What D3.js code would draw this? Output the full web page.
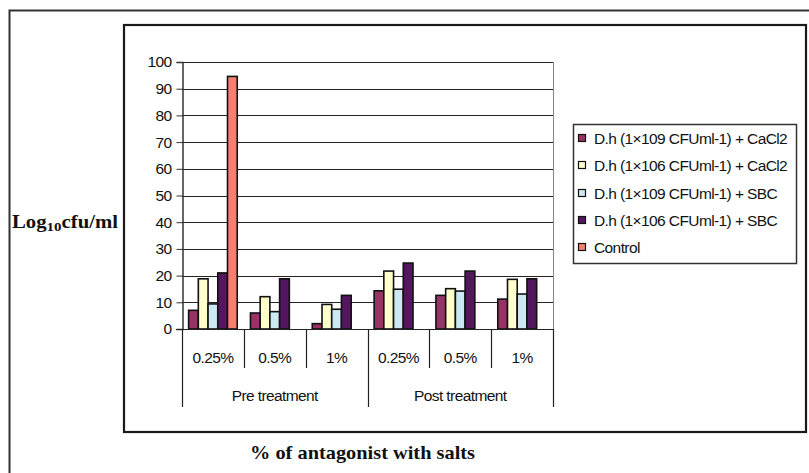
<!DOCTYPE html>
<html>
<head>
<meta charset="utf-8">
<script src="https://cdn.jsdelivr.net/npm/d3@7/dist/d3.min.js"></script>
<style>
  html, body { margin: 0; padding: 0; background: #fff; }
  svg { display: block; }
</style>
</head>
<body>
<svg id="chart" width="809" height="473"></svg>
<script>
// Sub-categories (concentration) and their treatment groups
const concentrations = ["0.25%", "0.5%", "1%", "0.25%", "0.5%", "1%"];
const treatments = ["Pre treatment", "Post treatment"];
const seriesNames = [
  "D.h (1×109 CFUml-1) + CaCl2",
  "D.h (1×106 CFUml-1) + CaCl2",
  "D.h (1×109 CFUml-1) + SBC",
  "D.h (1×106 CFUml-1) + SBC",
  "Control"
];
// Log10 cfu/ml per series, one value per sub-category
const dh109CaCl2 = [7, 6, 2, 14.3, 12.6, 11.2];
const dh106CaCl2 = [18.8, 12.1, 9.2, 21.7, 15.1, 18.6];
const dh109SBC   = [9.4, 6.5, 7.4, 14.9, 14.2, 13.1];
const dh106SBC   = [21, 18.8, 12.6, 24.7, 21.7, 18.8];
const control    = [94.6, null, null, null, null, null];
const yTicks = [0, 10, 20, 30, 40, 50, 60, 70, 80, 90, 100];

const seriesValues = [dh109CaCl2, dh106CaCl2, dh109SBC, dh106SBC, control];
const colors = ["#993366", "#FFFFCC", "#CCE8F2", "#551660", "#F5806F"];

const svg = d3.select("#chart");
const font = "'Liberation Sans', Arial, sans-serif";
const serif = "'Liberation Serif', 'Times New Roman', serif";
const fs = 15.5, ls = -0.6;

// Outer frame (open on the right and bottom)
svg.append("path")
  .attr("d", "M9.5,473 L9.5,10.5 L809,10.5")
  .attr("fill", "none").attr("stroke", "#333").attr("stroke-width", 2);

// Chart area frame
svg.append("rect")
  .attr("x", 124).attr("y", 25).attr("width", 682).attr("height", 407)
  .attr("fill", "#fff").attr("stroke", "#1a1a1a").attr("stroke-width", 2.2);

const plot = { left: 182, right: 553, top: 62, bottom: 329 };

const ids = d3.range(concentrations.length);
const x0 = d3.scaleBand().domain(ids).range([plot.left, plot.right]).paddingInner(0).paddingOuter(0);
const x1 = d3.scaleBand().domain(d3.range(seriesNames.length))
  .range([0, x0.bandwidth()]).paddingInner(0).paddingOuter(0.68);
const y = d3.scaleLinear().domain([0, 100]).range([plot.bottom, plot.top]);

// Horizontal gridlines
svg.append("g").selectAll("line").data(yTicks.slice(1)).join("line")
  .attr("x1", plot.left).attr("x2", plot.right)
  .attr("y1", d => Math.round(y(d)) + 0.5).attr("y2", d => Math.round(y(d)) + 0.5)
  .attr("stroke", "#222").attr("stroke-width", 1);

// Right edge of plot area
svg.append("line")
  .attr("x1", plot.right + 0.5).attr("x2", plot.right + 0.5)
  .attr("y1", plot.top).attr("y2", plot.bottom)
  .attr("stroke", "#888").attr("stroke-width", 1);

// Y axis
const yAxis = d3.axisLeft(y).tickValues(yTicks).tickSize(6).tickPadding(5);
const gy = svg.append("g").attr("transform", `translate(${plot.left + 0.5},0)`).call(yAxis);
gy.select(".domain").attr("stroke", "#333").attr("stroke-width", 1.5);
gy.selectAll(".tick line").attr("stroke", "#333");
gy.selectAll(".tick text")
  .attr("font-family", font).attr("font-size", fs).attr("fill", "#111")
  .attr("letter-spacing", ls);

// Bars
const barData = [];
seriesValues.forEach((vals, s) => vals.forEach((v, i) => {
  if (v != null) barData.push({ s, i, v });
}));
svg.append("g").selectAll("rect").data(barData).join("rect")
  .attr("x", d => x0(d.i) + x1(d.s))
  .attr("y", d => y(d.v))
  .attr("width", x1.bandwidth())
  .attr("height", d => y(0) - y(d.v))
  .attr("fill", d => colors[d.s])
  .attr("stroke", "#111").attr("stroke-width", 1.6);

// Baseline
svg.append("line")
  .attr("x1", plot.left - 6).attr("x2", plot.right)
  .attr("y1", plot.bottom + 0.5).attr("y2", plot.bottom + 0.5)
  .attr("stroke", "#222").attr("stroke-width", 1.2);

// Two-level category axis: separators
const sepG = svg.append("g").attr("stroke", "#222").attr("stroke-width", 1.2);
ids.concat([ids.length]).forEach(i => {
  const xx = i < ids.length ? x0(i) : plot.right;
  const isGroupEdge = i % 3 === 0;
  sepG.append("line")
    .attr("x1", Math.round(xx) + 0.5).attr("x2", Math.round(xx) + 0.5)
    .attr("y1", plot.bottom).attr("y2", isGroupEdge ? 407 : 368);
});

// Concentration labels
svg.append("g").selectAll("text").data(ids).join("text")
  .attr("x", i => x0(i) + x0.bandwidth() / 2)
  .attr("y", 363)
  .attr("text-anchor", "middle")
  .attr("font-family", font).attr("font-size", fs).attr("fill", "#111")
  .attr("letter-spacing", ls)
  .text(i => concentrations[i]);

// Treatment labels
svg.append("g").selectAll("text").data(treatments).join("text")
  .attr("x", (d, g) => (x0(g * 3) + (g * 3 + 3 < ids.length ? x0(g * 3 + 3) : plot.right)) / 2)
  .attr("y", 401)
  .attr("text-anchor", "middle")
  .attr("font-family", font).attr("font-size", fs).attr("fill", "#111")
  .attr("letter-spacing", ls)
  .text(d => d);

// Legend
const legend = svg.append("g");
legend.append("rect")
  .attr("x", 573.5).attr("y", 124.5).attr("width", 223).attr("height", 139)
  .attr("fill", "#fff").attr("stroke", "#333").attr("stroke-width", 1.5);
const rowY = [138, 165, 193, 220, 247];
seriesNames.forEach((name, s) => {
  legend.append("rect")
    .attr("x", 578.5).attr("y", rowY[s] - 3.5).attr("width", 7).attr("height", 7)
    .attr("fill", colors[s]).attr("stroke", "#111").attr("stroke-width", 1.2);
  legend.append("text")
    .attr("x", 594).attr("y", rowY[s] + 5.5)
    .attr("font-family", font).attr("font-size", fs).attr("fill", "#111")
    .attr("letter-spacing", ls)
    .text(name);
});

// Axis titles
const yTitle = svg.append("text")
  .attr("x", 12).attr("y", 228)
  .attr("textLength", 106).attr("lengthAdjust", "spacingAndGlyphs")
  .attr("font-family", serif).attr("font-size", 18).attr("font-weight", "bold").attr("fill", "#111");
yTitle.append("tspan").text("Log");
yTitle.append("tspan").attr("font-size", 13).attr("dy", 3).text("10");
yTitle.append("tspan").attr("dy", -3).text("cfu/ml");

svg.append("text")
  .attr("x", 250).attr("y", 459)
  .attr("textLength", 225).attr("lengthAdjust", "spacingAndGlyphs")
  .attr("font-family", serif).attr("font-size", 19).attr("font-weight", "bold").attr("fill", "#111")
  .text("% of antagonist with salts");
</script>
</body>
</html>
